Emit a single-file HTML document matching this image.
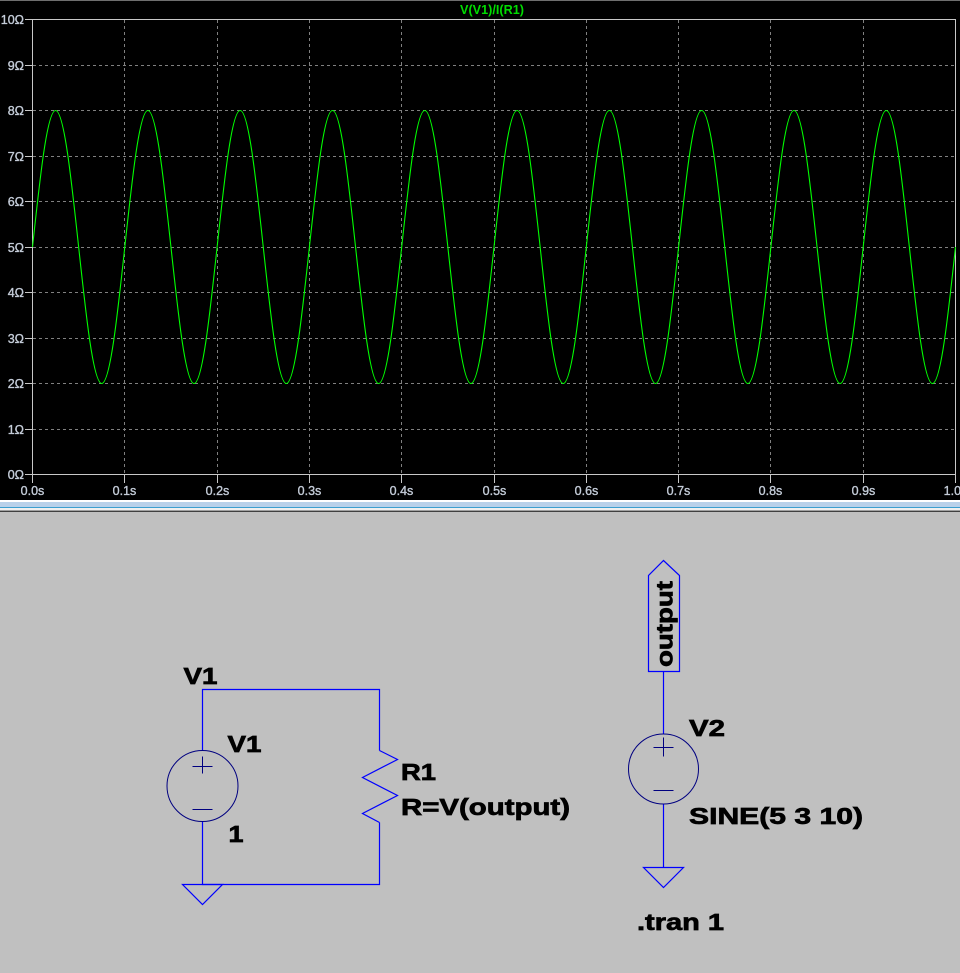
<!DOCTYPE html>
<html>
<head>
<meta charset="utf-8">
<style>
html,body{margin:0;padding:0;width:960px;height:973px;overflow:hidden;background:#c0c0c0;}
svg{display:block;}
</style>
</head>
<body>
<svg width="960" height="973" viewBox="0 0 960 973" xmlns="http://www.w3.org/2000/svg">
  <!-- plot background -->
  <rect x="0" y="0" width="960" height="500" fill="#000000"/>
  <rect x="0" y="0" width="960" height="1" fill="#6e6e6e"/>

  <!-- separator -->
  <rect x="0" y="500" width="960" height="2" fill="#ffffff"/>
  <rect x="0" y="502" width="960" height="5" fill="#b9d1ea"/>
  <rect x="0" y="507" width="960" height="1" fill="#3c9fd0"/>
  <rect x="0" y="508" width="960" height="2" fill="#f0f0f0"/>
  <rect x="0" y="510" width="960" height="1" fill="#a0a0a0"/>
  <rect x="0" y="511" width="960" height="1" fill="#404040"/>
  <rect x="0" y="512" width="960" height="461" fill="#c0c0c0"/>

  <!-- title -->
  <text x="492" y="14" font-family="Liberation Sans, sans-serif" font-weight="bold" font-size="12.5" fill="#00dc00" text-anchor="middle" textLength="64" lengthAdjust="spacingAndGlyphs">V(V1)/I(R1)</text>

  <!-- grid -->
  <g stroke="#808080" stroke-width="1" stroke-dasharray="3,3" fill="none">
    <line x1="33" y1="65.5" x2="955" y2="65.5"/>
    <line x1="33" y1="110.5" x2="955" y2="110.5"/>
    <line x1="33" y1="156.5" x2="955" y2="156.5"/>
    <line x1="33" y1="201.5" x2="955" y2="201.5"/>
    <line x1="33" y1="247.5" x2="955" y2="247.5"/>
    <line x1="33" y1="292.5" x2="955" y2="292.5"/>
    <line x1="33" y1="338.5" x2="955" y2="338.5"/>
    <line x1="33" y1="383.5" x2="955" y2="383.5"/>
    <line x1="33" y1="429.5" x2="955" y2="429.5"/>
    <line x1="124.5" y1="20" x2="124.5" y2="474"/>
    <line x1="217.5" y1="20" x2="217.5" y2="474"/>
    <line x1="309.5" y1="20" x2="309.5" y2="474"/>
    <line x1="401.5" y1="20" x2="401.5" y2="474"/>
    <line x1="494.5" y1="20" x2="494.5" y2="474"/>
    <line x1="586.5" y1="20" x2="586.5" y2="474"/>
    <line x1="678.5" y1="20" x2="678.5" y2="474"/>
    <line x1="770.5" y1="20" x2="770.5" y2="474"/>
    <line x1="863.5" y1="20" x2="863.5" y2="474"/>
  </g>

  <!-- frame & ticks -->
  <g stroke="#c8c8c8" stroke-width="1" fill="none">
    <rect x="32.5" y="19.5" width="923" height="455"/>
    <line x1="25" y1="19.5" x2="32.5" y2="19.5"/>
    <line x1="25" y1="65.5" x2="32.5" y2="65.5"/>
    <line x1="25" y1="110.5" x2="32.5" y2="110.5"/>
    <line x1="25" y1="156.5" x2="32.5" y2="156.5"/>
    <line x1="25" y1="201.5" x2="32.5" y2="201.5"/>
    <line x1="25" y1="247.5" x2="32.5" y2="247.5"/>
    <line x1="25" y1="292.5" x2="32.5" y2="292.5"/>
    <line x1="25" y1="338.5" x2="32.5" y2="338.5"/>
    <line x1="25" y1="383.5" x2="32.5" y2="383.5"/>
    <line x1="25" y1="429.5" x2="32.5" y2="429.5"/>
    <line x1="25" y1="474.5" x2="32.5" y2="474.5"/>
    <line x1="32.5" y1="474.5" x2="32.5" y2="483"/>
    <line x1="124.5" y1="474.5" x2="124.5" y2="483"/>
    <line x1="217.5" y1="474.5" x2="217.5" y2="483"/>
    <line x1="309.5" y1="474.5" x2="309.5" y2="483"/>
    <line x1="401.5" y1="474.5" x2="401.5" y2="483"/>
    <line x1="494.5" y1="474.5" x2="494.5" y2="483"/>
    <line x1="586.5" y1="474.5" x2="586.5" y2="483"/>
    <line x1="678.5" y1="474.5" x2="678.5" y2="483"/>
    <line x1="770.5" y1="474.5" x2="770.5" y2="483"/>
    <line x1="863.5" y1="474.5" x2="863.5" y2="483"/>
    <line x1="955.5" y1="474.5" x2="955.5" y2="483"/>
  </g>

  <!-- y labels -->
  <g font-family="Liberation Sans, sans-serif" font-size="12.5" fill="#c4ccd8" stroke="#c4ccd8" stroke-width="0.35" text-anchor="end">
    <text x="24" y="24">10Ω</text>
    <text x="24" y="70">9Ω</text>
    <text x="24" y="115">8Ω</text>
    <text x="24" y="161">7Ω</text>
    <text x="24" y="206">6Ω</text>
    <text x="24" y="252">5Ω</text>
    <text x="24" y="297">4Ω</text>
    <text x="24" y="343">3Ω</text>
    <text x="24" y="388">2Ω</text>
    <text x="24" y="434">1Ω</text>
    <text x="24" y="479">0Ω</text>
  </g>
  <!-- x labels -->
  <g font-family="Liberation Sans, sans-serif" font-size="12.5" fill="#c4ccd8" stroke="#c4ccd8" stroke-width="0.35" text-anchor="middle">
    <text x="32.5" y="495">0.0s</text>
    <text x="124.5" y="495">0.1s</text>
    <text x="217.5" y="495">0.2s</text>
    <text x="309.5" y="495">0.3s</text>
    <text x="401.5" y="495">0.4s</text>
    <text x="494.5" y="495">0.5s</text>
    <text x="586.5" y="495">0.6s</text>
    <text x="678.5" y="495">0.7s</text>
    <text x="770.5" y="495">0.8s</text>
    <text x="863.5" y="495">0.9s</text>
    <text x="955.5" y="495">1.0s</text>
  </g>

  <!-- waveform -->
  <path fill="none" stroke="#00ff00" stroke-width="1.1" d="M32.5,247
  c7.53,-69.93 14.72,-136.5 23.075,-136.5 c8.35,0 15.55,66.57 23.075,136.5 c7.53,69.93 14.72,136.5 23.075,136.5 c8.35,0 15.55,-66.57 23.075,-136.5
  c7.53,-69.93 14.72,-136.5 23.075,-136.5 c8.35,0 15.55,66.57 23.075,136.5 c7.53,69.93 14.72,136.5 23.075,136.5 c8.35,0 15.55,-66.57 23.075,-136.5
  c7.53,-69.93 14.72,-136.5 23.075,-136.5 c8.35,0 15.55,66.57 23.075,136.5 c7.53,69.93 14.72,136.5 23.075,136.5 c8.35,0 15.55,-66.57 23.075,-136.5
  c7.53,-69.93 14.72,-136.5 23.075,-136.5 c8.35,0 15.55,66.57 23.075,136.5 c7.53,69.93 14.72,136.5 23.075,136.5 c8.35,0 15.55,-66.57 23.075,-136.5
  c7.53,-69.93 14.72,-136.5 23.075,-136.5 c8.35,0 15.55,66.57 23.075,136.5 c7.53,69.93 14.72,136.5 23.075,136.5 c8.35,0 15.55,-66.57 23.075,-136.5
  c7.53,-69.93 14.72,-136.5 23.075,-136.5 c8.35,0 15.55,66.57 23.075,136.5 c7.53,69.93 14.72,136.5 23.075,136.5 c8.35,0 15.55,-66.57 23.075,-136.5
  c7.53,-69.93 14.72,-136.5 23.075,-136.5 c8.35,0 15.55,66.57 23.075,136.5 c7.53,69.93 14.72,136.5 23.075,136.5 c8.35,0 15.55,-66.57 23.075,-136.5
  c7.53,-69.93 14.72,-136.5 23.075,-136.5 c8.35,0 15.55,66.57 23.075,136.5 c7.53,69.93 14.72,136.5 23.075,136.5 c8.35,0 15.55,-66.57 23.075,-136.5
  c7.53,-69.93 14.72,-136.5 23.075,-136.5 c8.35,0 15.55,66.57 23.075,136.5 c7.53,69.93 14.72,136.5 23.075,136.5 c8.35,0 15.55,-66.57 23.075,-136.5
  c7.53,-69.93 14.72,-136.5 23.075,-136.5 c8.35,0 15.55,66.57 23.075,136.5 c7.53,69.93 14.72,136.5 23.075,136.5 c8.35,0 15.55,-66.57 23.075,-136.5"/>

  <!-- ===== schematic ===== -->
  <!-- V1 circuit wires -->
  <g stroke="#0000ff" stroke-width="1.2" fill="none">
    <polyline points="202.5,750.5 202.5,689.5 379.5,689.5 379.5,750.5"/>
    <polyline points="202.5,821.5 202.5,884.5 379.5,884.5 379.5,822.5"/>
    <polyline points="379.5,750.5 397.5,759.5 362.5,777.5 397.5,795.5 362.5,813.5 379.5,822.5"/>
    <path d="M182.5,884.5 H222.5 L202.5,904.5 Z"/>
  </g>
  <g stroke="#000080" stroke-width="1" fill="none">
    <circle cx="202.5" cy="786" r="35.5"/>
    <line x1="192.5" y1="766.5" x2="212.5" y2="766.5"/>
    <line x1="202.5" y1="756.5" x2="202.5" y2="773.5"/>
    <line x1="192.5" y1="809.5" x2="212.5" y2="809.5"/>
  </g>

  <!-- V2 circuit -->
  <g stroke="#0000ff" stroke-width="1.2" fill="none">
    <path d="M648.5,671.5 V575.5 L663.5,560.5 L679.5,575.5 V671.5 Z"/>
    <line x1="663.5" y1="671.5" x2="663.5" y2="734"/>
    <line x1="663.5" y1="804" x2="663.5" y2="867.5"/>
    <path d="M643.5,867.5 H683.5 L663.5,887.5 Z"/>
  </g>
  <g stroke="#000080" stroke-width="1" fill="none">
    <circle cx="663.5" cy="769" r="35"/>
    <line x1="653.5" y1="747.5" x2="673.5" y2="747.5"/>
    <line x1="663.5" y1="737.5" x2="663.5" y2="756.5"/>
    <line x1="653.5" y1="790.5" x2="673.5" y2="790.5"/>
  </g>

  <!-- schematic text -->
  <g font-family="Liberation Sans, sans-serif" font-weight="bold" font-size="23" fill="#000000" stroke="#000000" stroke-width="0.7">
    <text x="183.5" y="684" textLength="34" lengthAdjust="spacingAndGlyphs">V1</text>
    <text x="227.5" y="752" textLength="34" lengthAdjust="spacingAndGlyphs">V1</text>
    <text x="228.5" y="842" textLength="15" lengthAdjust="spacingAndGlyphs">1</text>
    <text x="401" y="780" textLength="35" lengthAdjust="spacingAndGlyphs">R1</text>
    <text x="401" y="815" textLength="169" lengthAdjust="spacingAndGlyphs">R=V(output)</text>
    <text x="689" y="736" textLength="36" lengthAdjust="spacingAndGlyphs">V2</text>
    <text x="689" y="824" textLength="174" lengthAdjust="spacingAndGlyphs">SINE(5 3 10)</text>
    <text x="637" y="930" textLength="87" lengthAdjust="spacingAndGlyphs">.tran 1</text>
    <text transform="translate(672.5,667) rotate(-90)" x="0" y="0" textLength="86" lengthAdjust="spacingAndGlyphs">output</text>
  </g>
</svg>
</body>
</html>
